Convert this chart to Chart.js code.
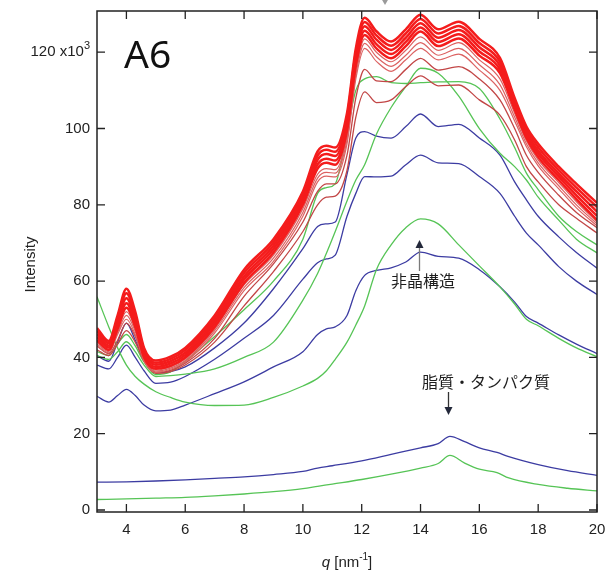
<!DOCTYPE html>
<html><head><meta charset="utf-8">
<script src="https://cdn.jsdelivr.net/npm/chart.js@4.4.1/dist/chart.umd.min.js"></script>
<style>html,body{margin:0;padding:0;background:#fff;}canvas{display:block;}</style>
</head><body>
<canvas id="c" width="606" height="573"></canvas>
<script>
// q grid (nm^-1)
const Q = [3,3.4,3.7,4,4.3,4.6,5,5.5,6,7,8,9,10,10.5,10.8,11.1,11.5,11.8,12.1,12.5,13,13.5,14,14.6,15.3,16,16.7,17.2,17.6,18,18.7,19.3,20];
const Q_LOW = [3,4,5,6,7,8,9,10,10.5,11,12,13,14,14.6,15,15.5,16,16.6,17,18,19,20];
const X_TICKS = [4,6,8,10,12,14,16,18,20];
const Y_TICKS = [0,20,40,60,80,100,120];

// bright red bundle (x10^3)
const R1 = [47.7,44.3,51,58,52,42.5,39.2,40.2,42.5,51,63,71,83.5,94,95.5,95,104,121,129,125.5,122.8,126,129.8,126,128,123.5,118.5,108,100.5,96,90,85.5,80.5];
const R2 = [46.9,43.7,50.2,56.8,51,41.9,38.6,39.6,41.9,50.2,62.1,70.1,82.6,92.9,94.4,93.9,102.9,119.9,127.9,124.4,121.7,124.9,128.7,124.9,126.9,122.4,117.5,107.3,99.8,95.1,89.1,84.5,79.4];
const R3 = [46.1,43.1,49.3,55.5,50,41.3,38.1,39,41.2,49.5,61.2,69.3,81.7,91.8,93.3,92.8,101.8,118.8,126.8,123.3,120.6,123.8,127.6,123.8,125.8,121.3,116.5,106.5,99,94.2,88.2,83.5,78.2];
const R4 = [45.3,42.6,48.4,54.2,49,40.6,37.5,38.4,40.6,48.8,60.4,68.4,80.9,90.6,92.1,91.6,100.6,117.6,125.6,122.1,119.5,122.7,126.5,122.7,124.7,120.2,115.5,105.8,98.3,93.4,87.4,82.5,77.1];
const R5 = [44.5,42,47.5,53,48,40,37,37.8,40,48,59.5,67.5,80,89.5,91,90.5,99.5,116.5,124.5,121,118.4,121.6,125.4,121.6,123.6,119.1,114.5,105,97.5,92.5,86.5,81.5,76];
// lighter reds
const L1 = [44,41.8,47,52,47.5,39.7,36.7,37.5,39.6,47.5,59,66.8,79,88,89.5,89.2,98,115,123.5,120,117.5,120.5,124,120.5,122.5,118,113,104,96.8,91.8,85.8,80.8,75.5];
const L2 = [43.5,41.5,46.5,51,46.8,39.4,36.4,37.2,39.2,47,58.3,66,78,87,88.5,88.3,97,114,122.3,118.8,116.3,119.2,122.5,119.2,121,116.7,111.5,103,96,91,85,80,75];
const L3 = [43,41.2,46,50,46,39,36.1,36.9,38.8,46.4,57.5,65.2,77,86,87.5,87.3,96,113,121,117.6,115,118,121,118,119.5,115.3,110,102,95.2,90.2,84.2,79.2,74.5];
// dark reds
const DR2 = [43,41,44.5,49,45.5,39.5,36,36.6,38.5,45,56,64.5,75.5,83.5,85.5,85.5,93,108,115.5,112.5,112.3,115.5,118.4,115.3,116.2,113,107.5,100,93,88.5,82.5,78,74];
const DR1 = [42,40.5,43.5,47,44,39,35.8,36.3,38,44,53.5,62.5,73,80,82,82.3,89,103,109.6,106.8,107.5,111,113.8,111.2,111.4,107.5,103.5,97,90,86,80,76.5,72.6];
// greens
const G4 = [41.5,40.5,43.5,46,43,38.8,35.5,36.2,39,45.5,52.5,60,71,83,84.5,85.5,99,110,113,113.6,112,111.8,112,112.2,112.3,110.5,102.5,95,88.3,84,77,73,69.5];
const G3 = [40.5,39.5,41.5,44.1,41.5,38,35,35.2,35.6,37,40,44,55,62,67.3,73,81,86.5,90.5,98.5,105.5,111,115.8,114.5,108.5,100,93.5,90,86.5,82,76,71,67.4];
const G2 = [55.9,48,42.5,38,35,33,31,29.5,28.3,27.4,27.5,29.5,32.5,34.5,36.5,39.5,44,48.5,53.5,63,69.5,74,76.3,75,69.5,64,58.5,54,50,48.3,45,42.5,40.2];
const G1 = [2.75,2.9,3.1,3.3,3.7,4.2,4.8,5.6,6.2,6.8,8,9.4,11,12.2,14.3,12.3,10.7,9.8,8.4,6.7,5.7,5];
// blues
const B4 = [40.5,39,44,49,44.5,39.5,36,36.3,37.5,42.5,49,58,68.5,74.3,75,75.5,88,97.5,99.2,98,97.5,100.5,103.8,100.5,101.1,97.5,93,86,81.3,77,71.6,67.5,63.4];
const B3 = [38,37,40,43.2,40,36.5,33.2,33.5,35,39.5,45,51,60.5,64.8,65.8,66.8,77,83,87.4,87.3,87.5,90.5,93,91,90.8,87.4,83,77,72.6,69.5,63.8,60,56.5];
const B2 = [29.8,28.3,30,31.6,30,27.5,26,26.2,27.5,30.5,33.6,37.5,41.5,46,47.5,48,51,57.5,61.5,62.8,63.5,65,67.6,66.5,66,63,58.5,54.5,50.7,49,45.9,43.5,41];
const B1 = [7.3,7.4,7.6,7.9,8.3,8.7,9.3,10.1,11,11.6,12.9,14.6,16.3,17.4,19.3,17.9,16.3,15.1,14,11.9,10.3,9.1];

const BRIGHT = [R1,R2,R3,R4,R5];
const LIGHT = [L1,L2,L3];
const DARK = [DR2,DR1];
const GREENS = [G4,G3,G2];
const BLUES = [B4,B3,B2];

function pts(xs, ys){ return xs.map((x,i)=>({x:x, y:ys[i]})); }
function ds(xs, ys, color, w){
  return {data:pts(xs,ys), borderColor:color, borderWidth:w, pointRadius:0, fill:false, cubicInterpolationMode:'monotone'};
}
const datasets = [];
BRIGHT.forEach(s=>datasets.push(ds(Q,s,'#f41c1c',2.5)));
LIGHT.forEach(s=>datasets.push(ds(Q,s,'#dc6262',1.2)));
DARK.forEach(s=>datasets.push(ds(Q,s,'#c24646',1.3)));
GREENS.forEach(s=>datasets.push(ds(Q,s,'#56c456',1.3)));
BLUES.forEach(s=>datasets.push(ds(Q,s,'#3c3ca2',1.3)));
datasets.push(ds(Q_LOW,B1,'#3c3ca2',1.3));
datasets.push(ds(Q_LOW,G1,'#56c456',1.3));

const SANS = '"Liberation Sans", Arial, sans-serif';
const CJK = '"Noto Sans CJK JP", "Noto Sans", sans-serif';

function arrowHead(ctx, x, tipY, dir, w, h){
  ctx.beginPath();
  ctx.moveTo(x, tipY);
  ctx.lineTo(x - w/2, tipY - dir*h);
  ctx.lineTo(x + w/2, tipY - dir*h);
  ctx.closePath();
  ctx.fill();
}

const deco = {
  id:'deco',
  afterDraw(chart){
    const ctx = chart.ctx, a = chart.chartArea, x = chart.scales.x, y = chart.scales.y;
    ctx.save();
    ctx.strokeStyle = '#222';
    ctx.lineWidth = 1.5;
    ctx.strokeRect(a.left, a.top, a.right - a.left, a.bottom - a.top);
    ctx.lineWidth = 1.3;
    ctx.beginPath();
    X_TICKS.forEach(v=>{
      const px = x.getPixelForValue(v);
      ctx.moveTo(px, a.bottom); ctx.lineTo(px, a.bottom - 8);
      ctx.moveTo(px, a.top); ctx.lineTo(px, a.top + 8);
    });
    Y_TICKS.forEach(v=>{
      const py = y.getPixelForValue(v);
      ctx.moveTo(a.left, py); ctx.lineTo(a.left + 8, py);
      ctx.moveTo(a.right, py); ctx.lineTo(a.right - 8, py);
    });
    ctx.stroke();

    // top y tick label with exponent
    ctx.fillStyle = '#222';
    ctx.textBaseline = 'middle';
    ctx.textAlign = 'right';
    const p120 = y.getPixelForValue(120);
    ctx.font = '11px ' + SANS;
    const wExp = ctx.measureText('3').width;
    ctx.fillText('3', a.left - 7, p120 - 6);
    ctx.font = '15px ' + SANS;
    ctx.fillText('120 x10', a.left - 7 - wExp, p120);

    // panel label
    ctx.fillStyle = '#111';
    ctx.textAlign = 'left';
    ctx.textBaseline = 'alphabetic';
    ctx.font = '39px "Noto Sans", sans-serif';
    ctx.fillText('A6', 124, 68);

    // x axis title: q [nm^-1]
    ctx.fillStyle = '#222';
    const cx = (a.left + a.right) / 2, by = 567;
    ctx.font = 'italic 15px ' + SANS;
    const wq = ctx.measureText('q').width;
    ctx.font = '15px ' + SANS;
    const w1 = ctx.measureText(' [nm').width;
    const w3 = ctx.measureText(']').width;
    ctx.font = '10px ' + SANS;
    const w2 = ctx.measureText('-1').width;
    let sx = cx - (wq + w1 + w2 + w3) / 2;
    ctx.font = 'italic 15px ' + SANS; ctx.fillText('q', sx, by); sx += wq;
    ctx.font = '15px ' + SANS; ctx.fillText(' [nm', sx, by); sx += w1;
    ctx.font = '10px ' + SANS; ctx.fillText('-1', sx, by - 7); sx += w2;
    ctx.font = '15px ' + SANS; ctx.fillText(']', sx, by);

    // y axis title
    ctx.save();
    ctx.translate(31, (a.top + a.bottom) / 2 + 3);
    ctx.rotate(-Math.PI / 2);
    ctx.textAlign = 'center';
    ctx.textBaseline = 'middle';
    ctx.font = '15px ' + SANS;
    ctx.fillText('Intensity', 0, 0);
    ctx.restore();

    // annotations
    ctx.fillStyle = '#1e1e1e';
    ctx.textAlign = 'center';
    ctx.font = '16px ' + CJK;
    ctx.fillText('非晶構造', 423, 287);
    ctx.fillText('脂質・タンパク質', 486, 388);

    ctx.strokeStyle = '#7a7a7a';
    ctx.lineWidth = 1.3;
    ctx.beginPath(); ctx.moveTo(419.5, 271); ctx.lineTo(419.5, 247); ctx.stroke();
    ctx.fillStyle = '#23283a';
    arrowHead(ctx, 419.5, 240, -1, 8, 8);

    ctx.strokeStyle = '#333';
    ctx.beginPath(); ctx.moveTo(448.5, 392); ctx.lineTo(448.5, 408); ctx.stroke();
    arrowHead(ctx, 448.5, 415, 1, 8, 8);

    ctx.fillStyle = '#9a9a9a';
    arrowHead(ctx, 385, 5, 1, 7, 6);
    ctx.restore();
  }
};

new Chart(document.getElementById('c'), {
  type:'line',
  data:{datasets:datasets},
  options:{
    responsive:false,
    animation:false,
    events:[],
    layout:{padding:{top:11, right:9, left:0, bottom:0}},
    plugins:{legend:{display:false}, tooltip:{enabled:false}},
    scales:{
      x:{
        type:'linear', min:3, max:20,
        afterBuildTicks:s=>{ s.ticks = X_TICKS.map(v=>({value:v})); },
        afterFit:s=>{ s.height = 61; s.paddingLeft = 0; s.paddingRight = 0; },
        grid:{display:false, drawTicks:false},
        border:{display:false},
        ticks:{padding:9, color:'#222', maxRotation:0, autoSkip:false, font:{family:SANS, size:15}}
      },
      y:{
        type:'linear', min:-0.52, max:130.8,
        afterBuildTicks:s=>{ s.ticks = Y_TICKS.map(v=>({value:v})); },
        afterFit:s=>{ s.width = 97; s.paddingTop = 0; s.paddingBottom = 0; },
        grid:{display:false, drawTicks:false},
        border:{display:false},
        ticks:{padding:7, color:'#222', autoSkip:false, font:{family:SANS, size:15},
          callback:v=> v === 120 ? '' : String(v)}
      }
    }
  },
  plugins:[deco]
});
</script>
</body></html>
